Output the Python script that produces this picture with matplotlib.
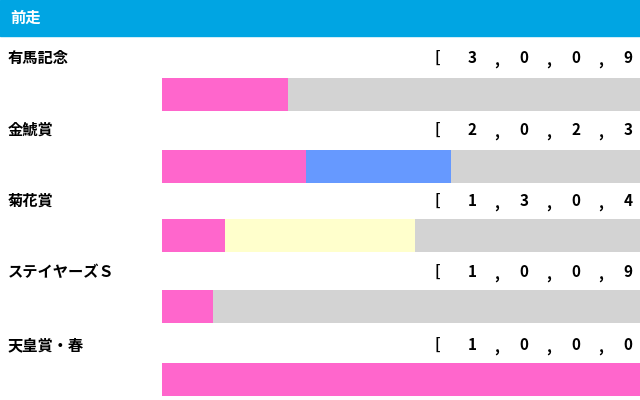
import matplotlib.pyplot as plt
import numpy as np

plt.rcParams['font.family'] = ['Noto Sans CJK JP', 'DejaVu Sans']

races = ['有馬記念', '金鯱賞', '菊花賞', 'ステイヤーズＳ', '天皇賞・春']
wins = [3, 2, 1, 1, 1]
seconds = [0, 0, 3, 0, 0]
thirds = [0, 2, 0, 0, 0]
others = [9, 3, 4, 9, 0]
colors = ['#ff66cc', '#ffffcc', '#6699ff', '#d3d3d3']

fig = plt.figure(figsize=(6.4, 4.0), dpi=100)
ax = fig.add_axes([0, 0, 1, 1])
ax.set_xlim(0, 640)
ax.set_ylim(400, 0)
ax.axis('off')

# header
ax.add_patch(plt.Rectangle((0, 0), 640, 36, color='#00a5e3'))
ax.text(10, 18, '前走', color='white', fontsize=11, fontweight='bold', va='center')

bar_left, bar_w = 162, 505
label_y = [58, 130, 201, 272, 345]
bar_y = [94, 166, 235, 306, 379]
for i, name in enumerate(races):
    ax.text(8, label_y[i], name, fontsize=11, fontweight='bold', va='center')
    vals = [wins[i], seconds[i], thirds[i], others[i]]
    tot = sum(vals)
    left = bar_left
    for v, c in zip(vals, colors):
        w = v / tot * bar_w
        ax.barh(bar_y[i], w, height=33, left=left, color=c, linewidth=0)
        left += w
    ax.text(437, label_y[i], '[', fontsize=11, fontweight='bold', va='center', ha='center')
    for k, v in enumerate(vals):
        ax.text(472 + 52 * k, label_y[i], str(v), fontsize=11, fontweight='bold',
                va='center', ha='center')
        ax.text(497 + 52 * k, label_y[i] + 3, ',', fontsize=11, fontweight='bold',
                va='center', ha='center')

fig.savefig('out.png', dpi=100)
